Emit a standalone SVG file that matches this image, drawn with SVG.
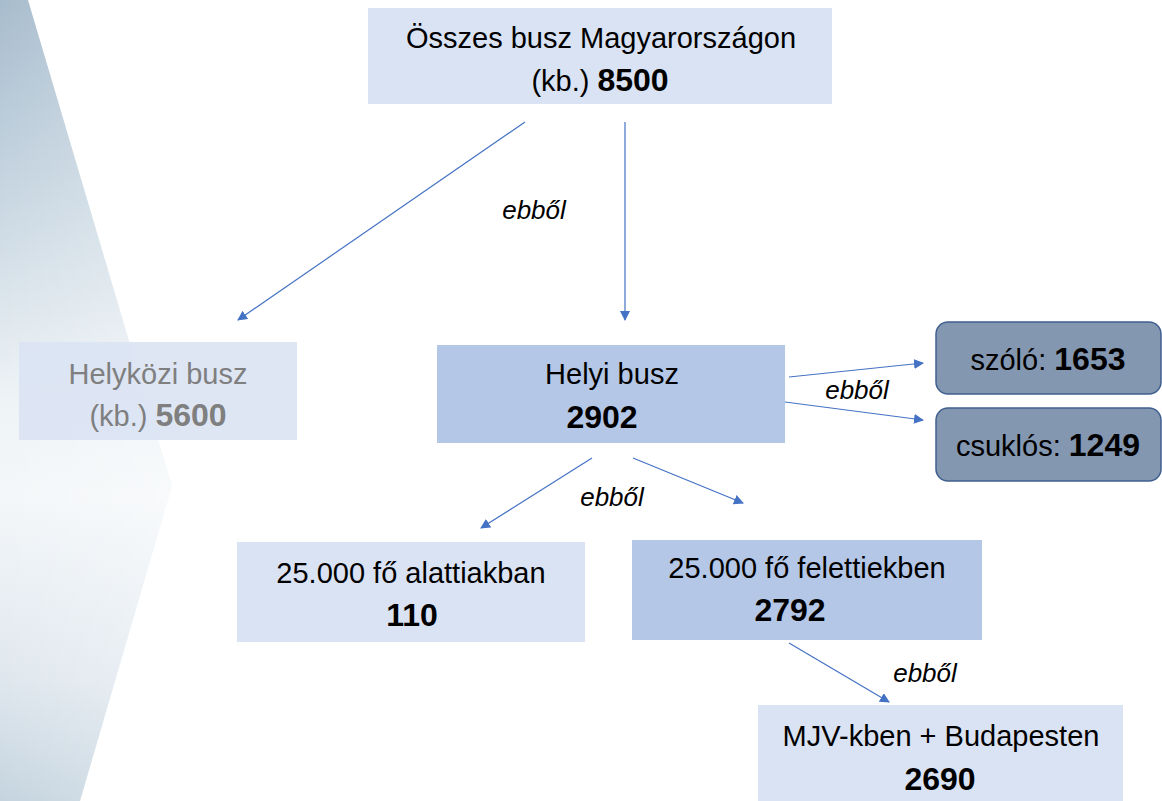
<svg xmlns="http://www.w3.org/2000/svg" width="1162" height="801" viewBox="0 0 1162 801">
<defs>
<linearGradient id="bg" x1="0" y1="0" x2="0" y2="1">
<stop offset="0" stop-color="#a7bccd"/>
<stop offset="0.25" stop-color="#c9d7e2"/>
<stop offset="0.5" stop-color="#eef3f6"/>
<stop offset="0.62" stop-color="#f4f7f9"/>
<stop offset="0.85" stop-color="#dfe7ee"/>
<stop offset="1" stop-color="#c5d4df"/>
</linearGradient>
<linearGradient id="bgh" x1="0" y1="0" x2="1" y2="0">
<stop offset="0" stop-color="#ffffff" stop-opacity="0"/>
<stop offset="1" stop-color="#ffffff" stop-opacity="0.35"/>
</linearGradient>
<marker id="ah" viewBox="0 0 10 10" refX="9" refY="5" markerWidth="10" markerHeight="10" markerUnits="userSpaceOnUse" orient="auto">
<path d="M0,0 L10,5 L0,10 z" fill="#4472c4"/>
</marker>
<style>
.t{font-family:"Liberation Sans",Arial,sans-serif;font-size:29px;fill:#000;text-anchor:middle}
.b{font-weight:bold;font-size:32px}
.g{fill:#7f7f7f}
.lbl{font-family:"Liberation Sans",Arial,sans-serif;font-size:26px;font-style:italic;fill:#000;text-anchor:middle}
.light{fill:#dae3f3}
.mid{fill:#b4c7e7}
.dark{fill:#8497b0;stroke:#3f5f8f;stroke-width:1.5}
.c{stroke:#4472c4;stroke-width:1.2;fill:none;marker-end:url(#ah)}
</style>
</defs>
<rect width="1162" height="801" fill="#ffffff"/>
<path d="M0,0 L28,0 L172,486 L80,801 L0,801 z" fill="url(#bg)"/>
<path d="M0,0 L28,0 L172,486 L80,801 L0,801 z" fill="url(#bgh)"/>

<g id="connectors">
<line class="c" x1="525" y1="122" x2="238" y2="320"/>
<line class="c" x1="625" y1="122" x2="625" y2="320"/>
<line class="c" x1="789" y1="377" x2="923" y2="363"/>
<line class="c" x1="785" y1="402" x2="923" y2="420"/>
<line class="c" x1="592" y1="458" x2="481" y2="528"/>
<line class="c" x1="633" y1="458" x2="743" y2="503"/>
<line class="c" x1="789" y1="643" x2="889" y2="702"/>
<text class="lbl" x="534" y="219">ebből</text>
<text class="lbl" x="857" y="399">ebből</text>
<text class="lbl" x="612" y="506">ebből</text>
<text class="lbl" x="925" y="682">ebből</text>
</g>

<g id="osszes">
<rect class="light" x="368" y="8" width="464" height="96"/>
<text class="t" x="601" y="48">Összes busz Magyarországon</text>
<text class="t" x="600" y="91">(kb.) <tspan class="b">8500</tspan></text>
</g>

<g id="helykozi">
<rect class="light" x="19" y="342" width="278" height="98" opacity="0.9"/>
<text class="t g" x="158" y="384">Helyközi busz</text>
<text class="t g" x="158" y="426">(kb.) <tspan class="b">5600</tspan></text>
</g>

<g id="helyi">
<rect class="mid" x="437" y="345" width="348" height="98"/>
<text class="t" x="612" y="384">Helyi busz</text>
<text class="t b" x="602" y="428">2902</text>
</g>

<g id="szolo">
<rect class="dark" x="936" y="322" width="225" height="72" rx="12"/>
<text class="t" x="1048" y="370">szóló: <tspan class="b">1653</tspan></text>
</g>

<g id="csuklos">
<rect class="dark" x="936" y="408" width="225" height="73" rx="12"/>
<text class="t" x="1048" y="456">csuklós: <tspan class="b">1249</tspan></text>
</g>

<g id="alatti">
<rect class="light" x="237" y="542" width="348" height="100"/>
<text class="t" x="411" y="583">25.000 fő alattiakban</text>
<text class="t b" x="412" y="626">110</text>
</g>

<g id="feletti">
<rect class="mid" x="632" y="540" width="350" height="100"/>
<text class="t" x="807" y="578">25.000 fő felettiekben</text>
<text class="t b" x="790" y="621">2792</text>
</g>

<g id="mjv">
<rect class="light" x="758" y="705" width="365" height="96"/>
<text class="t" x="941" y="746">MJV-kben + Budapesten</text>
<text class="t b" x="940" y="790">2690</text>
</g>
</svg>
